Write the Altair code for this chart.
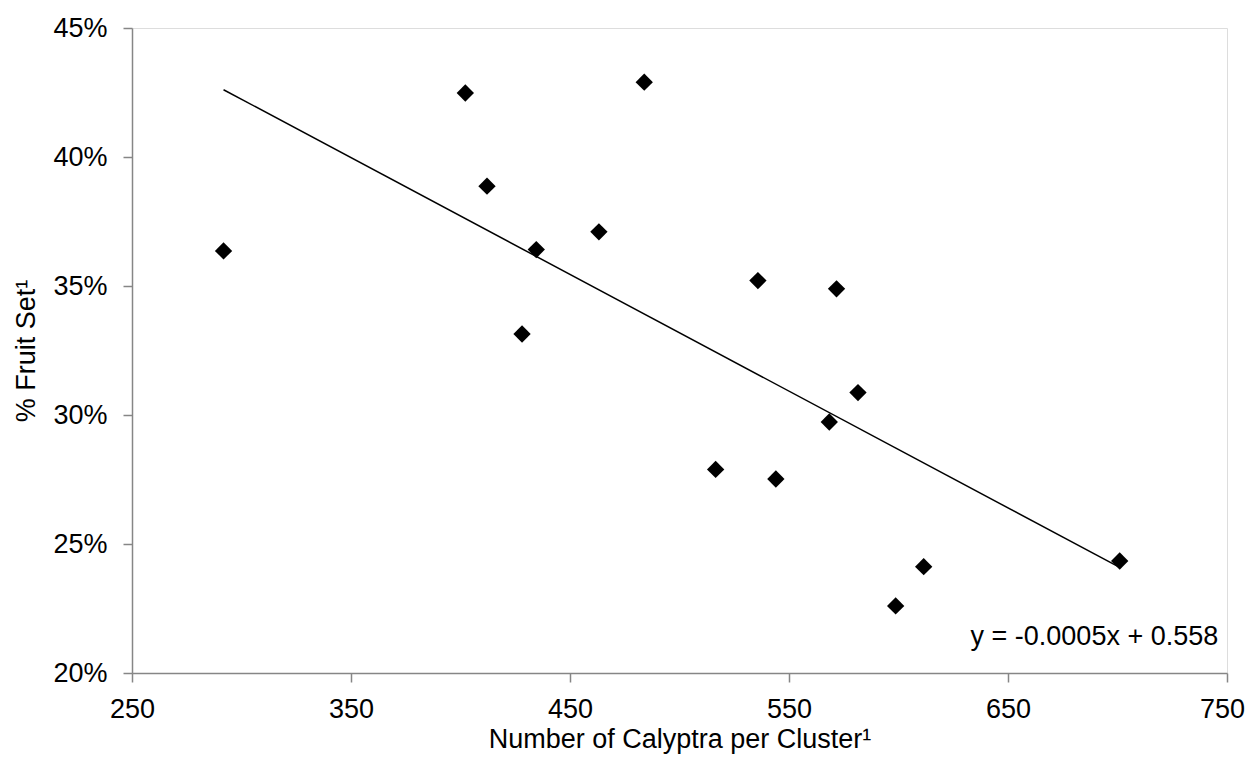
import altair as alt
import pandas as pd

calyptra = [291.8, 402.2, 412.1, 434.6, 428.1, 483.9, 463.2, 535.8, 571.7,
            581.5, 568.4, 516.5, 544.0, 611.5, 598.7, 701.0]
fruit_set = [0.3636, 0.4248, 0.3887, 0.3641, 0.3314, 0.4290, 0.3710, 0.3521, 0.3489,
             0.3087, 0.2973, 0.2789, 0.2752, 0.2412, 0.2260, 0.2434]

eq_text = ["y = -0.0005x + 0.558"]
eq_x = [746]
eq_y = [0.2139]

x_ticks = [250, 350, 450, 550, 650, 750]
y_ticks = [0.20, 0.25, 0.30, 0.35, 0.40, 0.45]

df = pd.DataFrame({"x": calyptra, "y": fruit_set})
eq_df = pd.DataFrame({"t": eq_text, "x": eq_x, "y": eq_y})

FONT = "Liberation Sans"
AXIS_COLOR = "#868686"
FS = 27

xscale = alt.Scale(domain=[250, 750], nice=False, zero=False)
yscale = alt.Scale(domain=[0.20, 0.45], nice=False, zero=False)

xaxis = alt.Axis(values=x_ticks, title="Number of Calyptra per Cluster\u00b9",
                 grid=False, domainColor=AXIS_COLOR, tickColor=AXIS_COLOR,
                 domainWidth=1.5, tickWidth=1.5, tickSize=9,
                 labelFlush=False, labelOverlap=False,
                 labelOffset={"expr": "datum.value == 750 ? -5 : 0"},
                 labelFont=FONT, labelFontSize=FS, labelColor="black", labelPadding=14,
                 titleFont=FONT, titleFontSize=FS, titleFontWeight="normal",
                 titleColor="black", titlePadding=4)
yaxis = alt.Axis(values=y_ticks, format=".0%", title="% Fruit Set\u00b9",
                 grid=False, domainColor=AXIS_COLOR, tickColor=AXIS_COLOR,
                 domainWidth=1.5, tickWidth=1.5, tickSize=9,
                 labelFlush=False, labelOverlap=False,
                 labelFont=FONT, labelFontSize=FS, labelColor="black", labelPadding=16,
                 titleFont=FONT, titleFontSize=FS, titleFontWeight="normal",
                 titleColor="black", titlePadding=12)

points = alt.Chart(df).mark_point(shape="diamond", filled=True, color="black",
                                  size=300, opacity=1).encode(
    x=alt.X("x:Q", scale=xscale, axis=xaxis),
    y=alt.Y("y:Q", scale=yscale, axis=yaxis),
)

trend = alt.Chart(df).transform_regression("x", "y").mark_line(
    color="black", strokeWidth=1.5).encode(
    x=alt.X("x:Q", scale=xscale, axis=xaxis),
    y=alt.Y("y:Q", scale=yscale, axis=yaxis),
)

eq = alt.Chart(eq_df).mark_text(align="right", baseline="middle", font=FONT,
                                fontSize=FS, color="black").encode(
    x=alt.X("x:Q", scale=xscale),
    y=alt.Y("y:Q", scale=yscale),
    text="t:N",
)

chart = alt.layer(trend, points, eq).properties(
    width=1095, height=645,
    autosize=alt.AutoSizeParams(type="none"),
    padding={"left": 124, "top": 20, "right": 19, "bottom": 81},
).configure_view(stroke=None).configure(background="white")

chart.save("out.html", embed_options={"renderer": "svg", "actions": False})
